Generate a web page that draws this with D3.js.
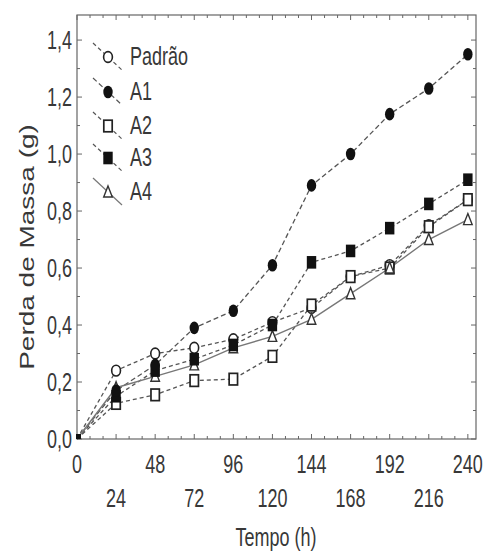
<!DOCTYPE html>
<html><head><meta charset="utf-8">
<script src="https://cdn.jsdelivr.net/npm/d3@7"></script>
<style>
body{margin:0;background:#fff;}
text{font-family:"Liberation Sans",Arial,sans-serif;fill:#383838;}
</style></head>
<body><svg id="c" width="486" height="554"></svg>
<script>
const hours = [0,24,48,72,96,120,144,168,192,216,240];
const padrao = [0.00,0.24,0.30,0.32,0.35,0.41,0.46,0.57,0.61,0.75,0.84];
const a1 = [0.00,0.17,0.26,0.39,0.45,0.61,0.89,1.00,1.14,1.23,1.35];
const a2 = [0.00,0.125,0.155,0.205,0.21,0.29,0.47,0.57,0.60,0.745,0.84];
const a3 = [0.00,0.15,0.24,0.28,0.33,0.40,0.62,0.66,0.74,0.825,0.91];
const a4 = [0.00,0.18,0.22,0.26,0.32,0.36,0.42,0.51,0.60,0.70,0.77];
const seriesNames = ["Padrão","A1","A2","A3","A4"];
const xTicks = [0,24,48,72,96,120,144,168,192,216,240];
const yTicks = [0,0.2,0.4,0.6,0.8,1.0,1.2,1.4];
const xLabel = "Tempo (h)";
const yLabel = "Perda de Massa (g)";

const seriesValues = [padrao,a1,a2,a3,a4];
const markers = ["circleOpen","circleFilled","squareOpen","squareFilled","triangleOpen"];
const dashes = ["4,3","5,3","4,3","4,3",null];

const svg = d3.select("#c");
const L=77, R=476, T=15, B=439;
const x = d3.scaleLinear().domain([0,245]).range([L,R]);
const y = d3.scaleLinear().domain([0,1.488]).range([B,T]);
const frameColor="#666";
const SX = 0.72, FS = 25;

function label(parent, tx, ty, str, anchor, size, rot){
  return parent.append("text")
    .attr("transform", `translate(${tx},${ty}) scale(${SX},1)` + (rot?` rotate(${rot})`:""))
    .attr("text-anchor", anchor).attr("font-size", size).text(str);
}

// frame
svg.append("rect").attr("x",L).attr("y",T).attr("width",R-L).attr("height",B-T)
  .attr("fill","none").attr("stroke",frameColor).attr("stroke-width",1.2);

// ticks (inward, mirrored)
const xMinor = d3.range(0,241,8);
const yMinor = d3.range(0,15).map(i=>i/10);
const g = svg.append("g").attr("stroke",frameColor).attr("stroke-width",1);
xMinor.forEach(v=>{
  const major = v%24===0;
  const len = major?5:3;
  g.append("line").attr("x1",x(v)).attr("x2",x(v)).attr("y1",B).attr("y2",B-len);
  g.append("line").attr("x1",x(v)).attr("x2",x(v)).attr("y1",T).attr("y2",T+len);
});
yMinor.forEach(v=>{
  const major = Math.round(v*10)%2===0;
  const len = major?5:3;
  g.append("line").attr("x1",L).attr("x2",L+len).attr("y1",y(v)).attr("y2",y(v));
  g.append("line").attr("x1",R).attr("x2",R-len).attr("y1",y(v)).attr("y2",y(v));
});

// tick labels
const fmt = v=>d3.format(".1f")(v).replace(".",",");
const yl = svg.append("g");
yTicks.forEach(v=>label(yl, L-5, y(v)+9, fmt(v), "end", FS));
const xl = svg.append("g");
xTicks.forEach((v,i)=>label(xl, x(v), i%2===0?473:507, v, "middle", FS));

label(svg, 276, 546, xLabel, "middle", FS);
label(svg, 34, 247, yLabel, "middle", 28, -90);

// lines
const line = d3.line().x((d,i)=>x(hours[i])).y(d=>y(d));
seriesValues.forEach((vals,k)=>{
  svg.append("path").attr("d",line(vals)).attr("fill","none")
    .attr("stroke", k===4?"#777":"#555").attr("stroke-width", k===4?1.4:1.3)
    .attr("stroke-dasharray", dashes[k]);
});

function drawMarker(sel, type, cx, cy){
  if(type==="circleOpen") sel.append("ellipse").attr("cx",cx).attr("cy",cy).attr("rx",4.4).attr("ry",5.4).attr("fill","#fff").attr("stroke","#222").attr("stroke-width",1.6);
  if(type==="circleFilled") sel.append("ellipse").attr("cx",cx).attr("cy",cy).attr("rx",4.7).attr("ry",6.3).attr("fill","#111");
  if(type==="squareOpen") sel.append("rect").attr("x",cx-4.2).attr("y",cy-5.8).attr("width",8.4).attr("height",11.6).attr("fill","#fff").attr("stroke","#222").attr("stroke-width",1.7);
  if(type==="squareFilled") sel.append("rect").attr("x",cx-4.7).attr("y",cy-6.3).attr("width",9.4).attr("height",12.6).attr("fill","#111");
  if(type==="triangleOpen") sel.append("path").attr("d",`M${cx},${cy-6}L${cx+4.3},${cy+5}L${cx-4.3},${cy+5}Z`).attr("fill","#fff").attr("stroke","#333").attr("stroke-width",1.4);
}

const order=[0,2,4,3,1];
order.forEach(k=>{
  const gm = svg.append("g");
  seriesValues[k].forEach((v,i)=>{
    if(i===0) return;
    drawMarker(gm, markers[k], x(hours[i]), y(v));
  });
});
svg.append("rect").attr("x",x(0)-1).attr("y",y(0)-5).attr("width",5).attr("height",5).attr("fill","#111");

// legend
const legY=[57,92,126,158,192];
seriesNames.forEach((n,k)=>{
  const cy=legY[k], cx=108;
  svg.append("line").attr("x1",cx-15).attr("y1",cy-14).attr("x2",cx+14).attr("y2",cy+13)
    .attr("stroke",k===4?"#777":"#555").attr("stroke-width",1.2).attr("stroke-dasharray",dashes[k]);
  drawMarker(svg, markers[k], cx, cy);
  label(svg, 130, cy+8, n, "start", FS);
});
</script></body></html>
